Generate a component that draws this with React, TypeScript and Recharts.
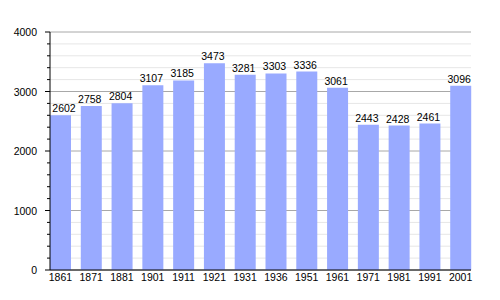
import React from 'react'
import { BarChart, Bar, XAxis, YAxis, CartesianGrid, LabelList } from 'recharts'

const years = ['1861', '1871', '1881', '1901', '1911', '1921', '1931', '1936', '1951', '1961', '1971', '1981', '1991', '2001']
const population = [2602, 2758, 2804, 3107, 3185, 3473, 3281, 3303, 3336, 3061, 2443, 2428, 2461, 3096]
const majorTicks = [0, 1000, 2000, 3000, 4000]
const minorTicks = [0, 200, 400, 600, 800, 1000, 1200, 1400, 1600, 1800, 2000, 2200, 2400, 2600, 2800, 3000, 3200, 3400, 3600, 3800, 4000]

const data = years.map((year, i) => ({ year, value: population[i] }))

const font = '"Liberation Sans", Arial, sans-serif'

function YTick(props: any) {
  const { x, y, payload } = props
  const major = majorTicks.includes(payload.value)
  return (
    <g>
      <line x1={x - (major ? 5 : 3)} x2={x} y1={y} y2={y} stroke="#000" strokeWidth={1} />
      {major && (
        <text x={x - 13} y={y} dy={4} textAnchor="end" fontSize={10.5} fontFamily={font} fill="#000">
          {payload.value}
        </text>
      )}
    </g>
  )
}

// every 5th line of the 200-step grid is a major (1000) line
function GridLine(props: any) {
  const { x1, x2, y1, y2, index } = props
  const major = majorTicks.includes(minorTicks[index])
  return <line x1={x1} x2={x2} y1={y1} y2={y2} stroke={major ? '#a8a8a8' : '#e6e6e6'} strokeWidth={1} />
}

// value labels sit a bit left of the bar centre, kept inside the plot at the edges
function ValueLabel(props: any) {
  const { x, y, width, value, index } = props
  let cx = x + width / 2 - 1.5
  if (index === 0) cx += 5
  return (
    <text x={cx} y={y - 3} textAnchor="middle" fontSize={10.5} fontFamily={font} fill="#000">
      {value}
    </text>
  )
}

export default function App() {
  return (
    <div style={{ position: 'absolute', left: 0, top: 0, width: 500, height: 300, background: '#fff' }}>
      <BarChart width={500} height={300} data={data} margin={{ top: 32, right: 29, bottom: 0, left: 0 }} barCategoryGap={0}>
        <CartesianGrid yAxisId="main" vertical={false} horizontal={(p: any) => <GridLine key={p.key} {...p} />} />
        <XAxis
          dataKey="year"
          height={30}
          padding={{ left: -5, right: -5 }}
          tickLine={false}
          tickSize={0}
          tickMargin={4}
          axisLine={{ stroke: '#000' }}
          tick={{ fontSize: 10.5, fontFamily: font, fill: '#000' }}
          interval={0}
        />
        <YAxis
          yAxisId="main"
          width={50}
          domain={[0, 4000]}
          ticks={minorTicks}
          interval={0}
          tickLine={false}
          tickSize={0}
          tickMargin={0}
          axisLine={{ stroke: '#000' }}
          tick={<YTick />}
        />
        <Bar yAxisId="main" dataKey="value" fill="#99aaff" barSize={21} isAnimationActive={false}>
          <LabelList dataKey="value" content={<ValueLabel />} />
        </Bar>
      </BarChart>
    </div>
  )
}
